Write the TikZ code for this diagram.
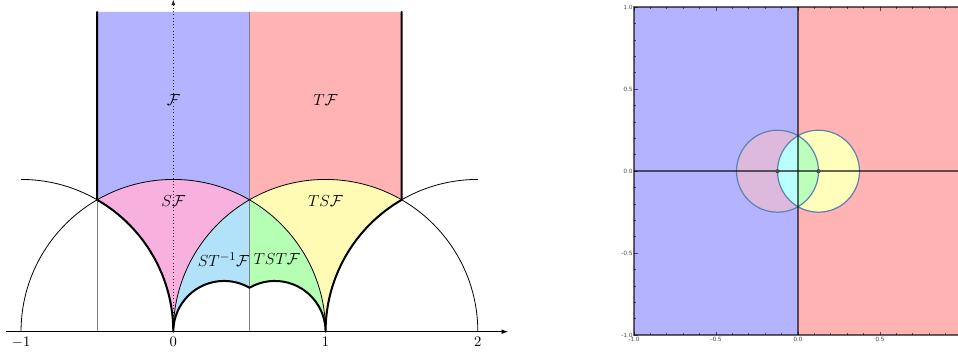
\documentclass[tikz,border=0pt]{standalone}
\usepackage{amsmath}
\usetikzlibrary{arrows.meta}
\definecolor{cF}{RGB}{179,179,255}
\definecolor{cTF}{RGB}{255,179,179}
\definecolor{cSF}{RGB}{248,176,222}
\definecolor{cSTiF}{RGB}{178,226,250}
\definecolor{cTSTF}{RGB}{180,255,180}
\definecolor{cTSF}{RGB}{255,250,180}
\definecolor{rMauve}{RGB}{221,186,221}
\definecolor{rCyan}{RGB}{185,255,255}
\definecolor{rGreen}{RGB}{187,255,187}
\definecolor{rYellow}{RGB}{255,255,187}
\definecolor{rCirc}{RGB}{94,129,181}
\tikzset{
  thinline/.style={line width=0.6pt, black},
  boldline/.style={line width=1.5pt, black, line join=round, line cap=round},
  grayline/.style={line width=0.7pt, black!50},
  regionlabel/.style={font=\fontsize{13}{15}\selectfont, inner sep=0pt},
  ticklabel/.style={font=\fontsize{10.8}{13}\selectfont, inner sep=0pt},
  plotframe/.style={black, opacity=0.6, line width=1.2pt},
  plottick/.style={black, opacity=0.6, line width=0.5pt},
  plotlabel/.style={font=\fontsize{4.8}{5}\sffamily, text=black!75, inner sep=1pt},
}
\begin{document}
\begin{tikzpicture}[x=0.75pt,y=0.75pt]
\useasboundingbox (0,0) rectangle (958,358);
\clip (0,0) rectangle (958,358);
% ---------------- left diagram ----------------
\begin{scope}[shift={(129.975pt,19.725pt)}, x=114.2pt, y=114.2pt]
  \fill[cF] (-0.5,2.1) -- (-0.5,{sqrt(3)/2}) arc[start angle=120,end angle=60,radius=1] -- (0.5,2.1) -- cycle;
  \fill[cTF] (0.5,2.1) -- (0.5,{sqrt(3)/2}) arc[start angle=120,end angle=60,radius=1] -- (1.5,2.1) -- cycle;
  \fill[cSF] (-0.5,{sqrt(3)/2}) arc[start angle=120,end angle=60,radius=1]
     arc[start angle=120,end angle=180,radius=1] arc[start angle=0,end angle=60,radius=1] -- cycle;
  \fill[cSTiF] (0.5,{sqrt(3)/2}) -- (0.5,{sqrt(3)/6}) arc[start angle=60,end angle=180,radius=0.333333]
     arc[start angle=180,end angle=120,radius=1] -- cycle;
  \fill[cTSTF] (0.5,{sqrt(3)/2}) -- (0.5,{sqrt(3)/6}) arc[start angle=120,end angle=0,radius=0.333333]
     arc[start angle=0,end angle=60,radius=1] -- cycle;
  \fill[cTSF] (0.5,{sqrt(3)/2}) arc[start angle=120,end angle=60,radius=1]
     arc[start angle=120,end angle=180,radius=1] arc[start angle=0,end angle=60,radius=1] -- cycle;
  % gray verticals
  \draw[grayline] (-0.5,0) -- (-0.5,{sqrt(3)/2});
  \draw[grayline] (0.5,0) -- (0.5,2.1);
  % thin arcs
  \draw[thinline] (1,0) arc[start angle=0,end angle=180,radius=1];
  \draw[thinline] (2,0) arc[start angle=0,end angle=180,radius=1];
  \draw[thinline] (-1,1) arc[start angle=90,end angle=0,radius=1];
  \draw[thinline] (1,0) arc[start angle=180,end angle=90,radius=1];
  % axes
  \coordinate (yb) at (0,0);
  \coordinate (yt) at (0,2.18);
  \coordinate (xl) at (-1.1,0);
  \coordinate (xr) at (2.2,0);
  \draw[black!85, line width=0.45pt, dash pattern=on 0.45pt off 2pt, -{Latex[length=4pt,width=3pt]}] (yb) -- (yt);
  \draw[black, line width=0.7pt, -{Latex[length=5pt,width=3.5pt]}] (xl) -- (xr);
  % bold boundary
  \draw[boldline] (-0.5,2.1) -- (-0.5,{sqrt(3)/2}) arc[start angle=60,end angle=0,radius=1]
     arc[start angle=180,end angle=60,radius=0.333333] arc[start angle=120,end angle=0,radius=0.333333]
     arc[start angle=180,end angle=120,radius=1] -- (1.5,2.1);
  % labels
  \node[regionlabel] (lF) at (0,1.52) {$\mathcal{F}$};
  \node[regionlabel] (lTF) at (1,1.52) {$T\mathcal{F}$};
  \node[regionlabel] (lSF) at (0,0.855) {$S\mathcal{F}$};
  \node[regionlabel] (lTSF) at (1,0.855) {$TS\mathcal{F}$};
  \node[regionlabel] (lSTiF) at (0.33,0.475) {$ST^{-1}\mathcal{F}$};
  \node[regionlabel] (lTSTF) at (0.68,0.475) {$TST\mathcal{F}$};
  \node[ticklabel] (tm1) at (-1,-0.068) {$-1$};
  \node[ticklabel] (t0) at (0,-0.068) {$0$};
  \node[ticklabel] (t1) at (1,-0.068) {$1$};
  \node[ticklabel] (t2) at (2,-0.068) {$2$};
\end{scope}
% ---------------- right plot ----------------
\begin{scope}[shift={(598.5pt,140.1pt)}, x=123pt, y=123pt]
  \fill[cF] (-1,-1) rectangle (0,1);
  \fill[cTF] (0,-1) rectangle (1.1,1);
  \fill[rMauve] (-0.125,0) circle[radius=0.25];
  \fill[rYellow] (0.125,0) circle[radius=0.25];
  \begin{scope}
    \clip (-0.125,0) circle[radius=0.25];
    \clip (0.125,0) circle[radius=0.25];
    \fill[rCyan] (-0.3,-0.3) rectangle (0,0.3);
    \fill[rGreen] (0,-0.3) rectangle (0.3,0.3);
  \end{scope}
  \draw[rCirc, line width=0.9pt] (-0.125,0) circle[radius=0.25];
  \draw[rCirc, line width=0.9pt] (0.125,0) circle[radius=0.25];
  \draw[plotframe] (-1,0) -- (1.1,0);
  \draw[plotframe] (0,-1) -- (0,1);
  \fill[black!70] (-0.125,0) circle[radius=1.6pt];
  \fill[black!70] (0.125,0) circle[radius=1.6pt];
  \draw[plotframe] (1.1,1) -- (-1,1) -- (-1,-1) -- (1.1,-1);
  \foreach \i in {-10,...,10}{
    \pgfmathsetmacro{\t}{\i/10}
    \pgfmathsetmacro{\len}{ifthenelse(mod(abs(\i),5)==0,0.022,0.013)}
    \draw[plottick] (-1,\t) -- ++(\len,0);
    \draw[plottick] (\t,-1) -- ++(0,\len);
    \draw[plottick] (\t,1) -- ++(0,-\len);
  }
  \node[plotlabel, anchor=east] (ly1) at (-1,1) {1.0};
  \node[plotlabel, anchor=east] (ly2) at (-1,0.5) {0.5};
  \node[plotlabel, anchor=east] (ly3) at (-1,0) {0.0};
  \node[plotlabel, anchor=east] (ly4) at (-1,-0.5) {-0.5};
  \node[plotlabel, anchor=east] (ly5) at (-1,-1) {-1.0};
  \node[plotlabel, anchor=north] (lx1) at (-1,-1.005) {-1.0};
  \node[plotlabel, anchor=north] (lx2) at (-0.5,-1.005) {-0.5};
  \node[plotlabel, anchor=north] (lx3) at (0,-1.005) {0.0};
  \node[plotlabel, anchor=north] (lx4) at (0.5,-1.005) {0.5};
\end{scope}
\end{tikzpicture}
\end{document}
